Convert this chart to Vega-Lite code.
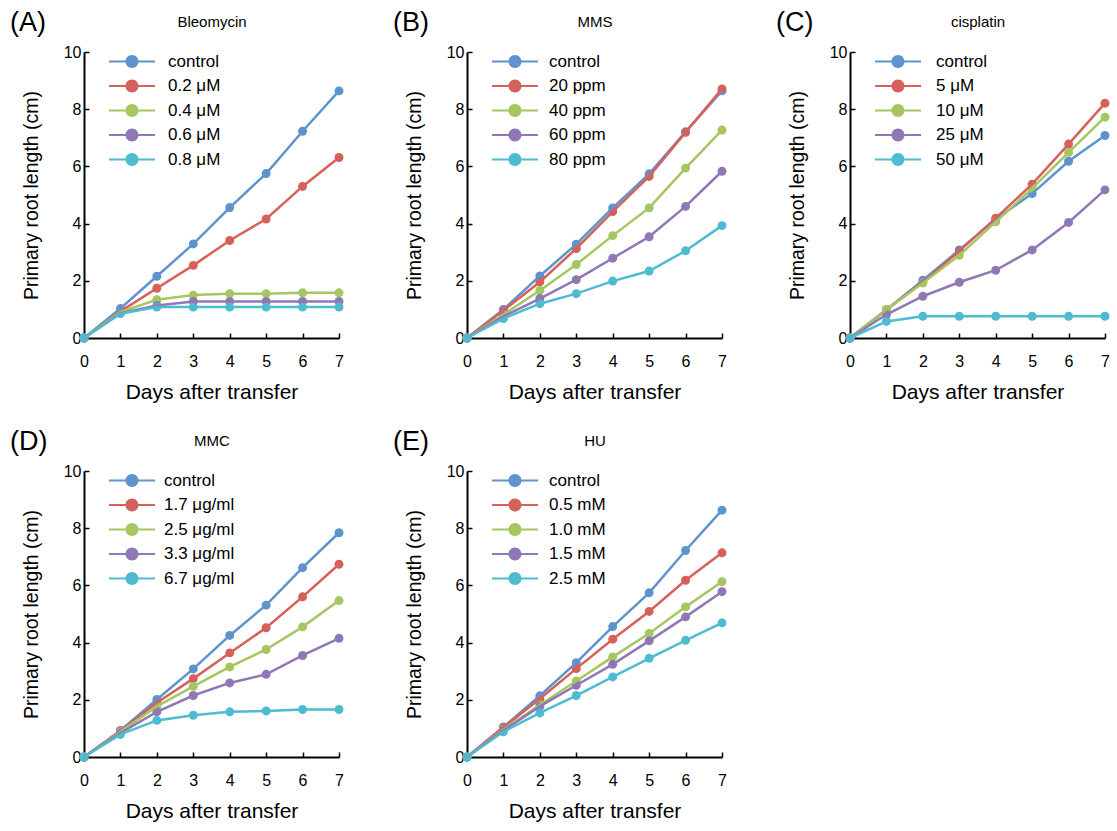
{
  "$schema": "https://vega.github.io/schema/vega-lite/v6.json",
  "padding": {"left": 10, "top": 9, "right": 5, "bottom": 5},
  "background": "white",
  "datasets": {
    "A": [
      {"day":0,"series":"control","length":0},{"day":1,"series":"control","length":1.03},{"day":2,"series":"control","length":2.16},{"day":3,"series":"control","length":3.29},{"day":4,"series":"control","length":4.56},{"day":5,"series":"control","length":5.75},{"day":6,"series":"control","length":7.23},{"day":7,"series":"control","length":8.64},
      {"day":0,"series":"0.2 μM","length":0},{"day":1,"series":"0.2 μM","length":0.93},{"day":2,"series":"0.2 μM","length":1.74},{"day":3,"series":"0.2 μM","length":2.54},{"day":4,"series":"0.2 μM","length":3.41},{"day":5,"series":"0.2 μM","length":4.16},{"day":6,"series":"0.2 μM","length":5.30},{"day":7,"series":"0.2 μM","length":6.31},
      {"day":0,"series":"0.4 μM","length":0},{"day":1,"series":"0.4 μM","length":0.91},{"day":2,"series":"0.4 μM","length":1.34},{"day":3,"series":"0.4 μM","length":1.50},{"day":4,"series":"0.4 μM","length":1.55},{"day":5,"series":"0.4 μM","length":1.55},{"day":6,"series":"0.4 μM","length":1.58},{"day":7,"series":"0.4 μM","length":1.58},
      {"day":0,"series":"0.6 μM","length":0},{"day":1,"series":"0.6 μM","length":0.87},{"day":2,"series":"0.6 μM","length":1.14},{"day":3,"series":"0.6 μM","length":1.28},{"day":4,"series":"0.6 μM","length":1.28},{"day":5,"series":"0.6 μM","length":1.28},{"day":6,"series":"0.6 μM","length":1.28},{"day":7,"series":"0.6 μM","length":1.28},
      {"day":0,"series":"0.8 μM","length":0},{"day":1,"series":"0.8 μM","length":0.85},{"day":2,"series":"0.8 μM","length":1.08},{"day":3,"series":"0.8 μM","length":1.08},{"day":4,"series":"0.8 μM","length":1.08},{"day":5,"series":"0.8 μM","length":1.08},{"day":6,"series":"0.8 μM","length":1.08},{"day":7,"series":"0.8 μM","length":1.08}
    ],
    "B": [
      {"day":0,"series":"control","length":0},{"day":1,"series":"control","length":1.00},{"day":2,"series":"control","length":2.17},{"day":3,"series":"control","length":3.28},{"day":4,"series":"control","length":4.55},{"day":5,"series":"control","length":5.74},{"day":6,"series":"control","length":7.21},{"day":7,"series":"control","length":8.64},
      {"day":0,"series":"20 ppm","length":0},{"day":1,"series":"20 ppm","length":0.96},{"day":2,"series":"20 ppm","length":1.96},{"day":3,"series":"20 ppm","length":3.13},{"day":4,"series":"20 ppm","length":4.42},{"day":5,"series":"20 ppm","length":5.65},{"day":6,"series":"20 ppm","length":7.19},{"day":7,"series":"20 ppm","length":8.71},
      {"day":0,"series":"40 ppm","length":0},{"day":1,"series":"40 ppm","length":0.82},{"day":2,"series":"40 ppm","length":1.66},{"day":3,"series":"40 ppm","length":2.57},{"day":4,"series":"40 ppm","length":3.58},{"day":5,"series":"40 ppm","length":4.55},{"day":6,"series":"40 ppm","length":5.94},{"day":7,"series":"40 ppm","length":7.27},
      {"day":0,"series":"60 ppm","length":0},{"day":1,"series":"60 ppm","length":0.76},{"day":2,"series":"60 ppm","length":1.38},{"day":3,"series":"60 ppm","length":2.04},{"day":4,"series":"60 ppm","length":2.79},{"day":5,"series":"60 ppm","length":3.54},{"day":6,"series":"60 ppm","length":4.60},{"day":7,"series":"60 ppm","length":5.83},
      {"day":0,"series":"80 ppm","length":0},{"day":1,"series":"80 ppm","length":0.68},{"day":2,"series":"80 ppm","length":1.20},{"day":3,"series":"80 ppm","length":1.55},{"day":4,"series":"80 ppm","length":1.99},{"day":5,"series":"80 ppm","length":2.34},{"day":6,"series":"80 ppm","length":3.05},{"day":7,"series":"80 ppm","length":3.93}
    ],
    "C": [
      {"day":0,"series":"control","length":0},{"day":1,"series":"control","length":0.99},{"day":2,"series":"control","length":2.02},{"day":3,"series":"control","length":3.08},{"day":4,"series":"control","length":4.15},{"day":5,"series":"control","length":5.05},{"day":6,"series":"control","length":6.18},{"day":7,"series":"control","length":7.08},
      {"day":0,"series":"5 μM","length":0},{"day":1,"series":"5 μM","length":0.99},{"day":2,"series":"5 μM","length":1.95},{"day":3,"series":"5 μM","length":3.04},{"day":4,"series":"5 μM","length":4.19},{"day":5,"series":"5 μM","length":5.38},{"day":6,"series":"5 μM","length":6.78},{"day":7,"series":"5 μM","length":8.21},
      {"day":0,"series":"10 μM","length":0},{"day":1,"series":"10 μM","length":1.00},{"day":2,"series":"10 μM","length":1.92},{"day":3,"series":"10 μM","length":2.89},{"day":4,"series":"10 μM","length":4.06},{"day":5,"series":"10 μM","length":5.23},{"day":6,"series":"10 μM","length":6.49},{"day":7,"series":"10 μM","length":7.72},
      {"day":0,"series":"25 μM","length":0},{"day":1,"series":"25 μM","length":0.82},{"day":2,"series":"25 μM","length":1.46},{"day":3,"series":"25 μM","length":1.95},{"day":4,"series":"25 μM","length":2.37},{"day":5,"series":"25 μM","length":3.08},{"day":6,"series":"25 μM","length":4.04},{"day":7,"series":"25 μM","length":5.18},
      {"day":0,"series":"50 μM","length":0},{"day":1,"series":"50 μM","length":0.58},{"day":2,"series":"50 μM","length":0.76},{"day":3,"series":"50 μM","length":0.76},{"day":4,"series":"50 μM","length":0.76},{"day":5,"series":"50 μM","length":0.76},{"day":6,"series":"50 μM","length":0.76},{"day":7,"series":"50 μM","length":0.76}
    ],
    "D": [
      {"day":0,"series":"control","length":0},{"day":1,"series":"control","length":0.93},{"day":2,"series":"control","length":2.01},{"day":3,"series":"control","length":3.08},{"day":4,"series":"control","length":4.25},{"day":5,"series":"control","length":5.31},{"day":6,"series":"control","length":6.62},{"day":7,"series":"control","length":7.84},
      {"day":0,"series":"1.7 μg/ml","length":0},{"day":1,"series":"1.7 μg/ml","length":0.91},{"day":2,"series":"1.7 μg/ml","length":1.90},{"day":3,"series":"1.7 μg/ml","length":2.74},{"day":4,"series":"1.7 μg/ml","length":3.64},{"day":5,"series":"1.7 μg/ml","length":4.52},{"day":6,"series":"1.7 μg/ml","length":5.60},{"day":7,"series":"1.7 μg/ml","length":6.74},
      {"day":0,"series":"2.5 μg/ml","length":0},{"day":1,"series":"2.5 μg/ml","length":0.88},{"day":2,"series":"2.5 μg/ml","length":1.77},{"day":3,"series":"2.5 μg/ml","length":2.47},{"day":4,"series":"2.5 μg/ml","length":3.15},{"day":5,"series":"2.5 μg/ml","length":3.76},{"day":6,"series":"2.5 μg/ml","length":4.55},{"day":7,"series":"2.5 μg/ml","length":5.47},
      {"day":0,"series":"3.3 μg/ml","length":0},{"day":1,"series":"3.3 μg/ml","length":0.84},{"day":2,"series":"3.3 μg/ml","length":1.58},{"day":3,"series":"3.3 μg/ml","length":2.15},{"day":4,"series":"3.3 μg/ml","length":2.59},{"day":5,"series":"3.3 μg/ml","length":2.89},{"day":6,"series":"3.3 μg/ml","length":3.55},{"day":7,"series":"3.3 μg/ml","length":4.15},
      {"day":0,"series":"6.7 μg/ml","length":0},{"day":1,"series":"6.7 μg/ml","length":0.79},{"day":2,"series":"6.7 μg/ml","length":1.28},{"day":3,"series":"6.7 μg/ml","length":1.46},{"day":4,"series":"6.7 μg/ml","length":1.58},{"day":5,"series":"6.7 μg/ml","length":1.61},{"day":6,"series":"6.7 μg/ml","length":1.66},{"day":7,"series":"6.7 μg/ml","length":1.66}
    ],
    "E": [
      {"day":0,"series":"control","length":0},{"day":1,"series":"control","length":1.05},{"day":2,"series":"control","length":2.14},{"day":3,"series":"control","length":3.30},{"day":4,"series":"control","length":4.56},{"day":5,"series":"control","length":5.74},{"day":6,"series":"control","length":7.22},{"day":7,"series":"control","length":8.63},
      {"day":0,"series":"0.5 mM","length":0},{"day":1,"series":"0.5 mM","length":1.03},{"day":2,"series":"0.5 mM","length":2.04},{"day":3,"series":"0.5 mM","length":3.09},{"day":4,"series":"0.5 mM","length":4.12},{"day":5,"series":"0.5 mM","length":5.09},{"day":6,"series":"0.5 mM","length":6.18},{"day":7,"series":"0.5 mM","length":7.14},
      {"day":0,"series":"1.0 mM","length":0},{"day":1,"series":"1.0 mM","length":0.96},{"day":2,"series":"1.0 mM","length":1.82},{"day":3,"series":"1.0 mM","length":2.66},{"day":4,"series":"1.0 mM","length":3.50},{"day":5,"series":"1.0 mM","length":4.32},{"day":6,"series":"1.0 mM","length":5.25},{"day":7,"series":"1.0 mM","length":6.13},
      {"day":0,"series":"1.5 mM","length":0},{"day":1,"series":"1.5 mM","length":0.93},{"day":2,"series":"1.5 mM","length":1.77},{"day":3,"series":"1.5 mM","length":2.51},{"day":4,"series":"1.5 mM","length":3.24},{"day":5,"series":"1.5 mM","length":4.06},{"day":6,"series":"1.5 mM","length":4.90},{"day":7,"series":"1.5 mM","length":5.78},
      {"day":0,"series":"2.5 mM","length":0},{"day":1,"series":"2.5 mM","length":0.88},{"day":2,"series":"2.5 mM","length":1.54},{"day":3,"series":"2.5 mM","length":2.15},{"day":4,"series":"2.5 mM","length":2.80},{"day":5,"series":"2.5 mM","length":3.45},{"day":6,"series":"2.5 mM","length":4.08},{"day":7,"series":"2.5 mM","length":4.69}
    ]
  },
  "config": {
    "view": {"stroke": null},
    "font": "Liberation Sans",
    "axis": {"grid": false, "domainColor": "black", "domainWidth": 2, "tickColor": "black", "tickWidth": 1.5, "tickSize": -5, "labelFontSize": 16, "labelColor": "black", "labelFont": "Liberation Sans", "titleFont": "Liberation Sans", "titleFontWeight": "normal", "titleColor": "black", "labelFlush": false, "labelOverlap": false},
    "axisX": {"titleFontSize": 21},
    "axisY": {"titleFontSize": 19.5},
    "legend": {"orient": "none", "legendX": 39.5, "legendY": 1, "title": null, "padding": 0, "symbolType": "M-3.54,-0.16L-0.8,-0.16L-0.8,0.16L-3.54,0.16Z M0.8,-0.16L3.54,-0.16L3.54,0.16L0.8,0.16Z M1,0A1,1 0 1,1 -1,0A1,1 0 1,1 1,0Z", "symbolSize": 169, "symbolStrokeWidth": 0, "symbolOpacity": 1, "labelFontSize": 17, "labelFont": "Liberation Sans", "labelColor": "black", "rowPadding": 6.5, "labelOffset": 27.5},
    "title": {"font": "Liberation Sans", "fontSize": 27, "fontWeight": "normal", "color": "black", "anchor": "start", "frame": "group"}
  },
  "resolve": {"scale": {"color": "independent"}, "legend": {"color": "independent"}},
  "bounds": "flush",
  "columns": 3,
  "spacing": {"row": 133, "column": 128},
  "concat": [
    {
      "width": 255, "height": 286,
      "data": {"name": "A"},
      "title": {"text": "(A)", "dx": -74, "dy": 27},
      "layer": [
        {"mark": {"type": "point", "filled": true, "size": 80, "opacity": 1},
         "encoding": {
           "x": {"field": "day", "type": "quantitative", "scale": {"domain": [0, 7]}, "axis": {"orient": "bottom", "values": [0,1,2,3,4,5,6,7], "title": "Days after transfer", "labelPadding": 20, "titlePadding": 12}},
           "y": {"field": "length", "type": "quantitative", "scale": {"domain": [0, 10]}, "axis": {"orient": "left", "values": [0,2,4,6,8,10], "title": "Primary root length (cm)", "labelPadding": 8, "titlePadding": 22}},
           "color": {"field": "series", "type": "nominal", "sort": null, "scale": {"domain": ["control","0.2 μM","0.4 μM","0.6 μM","0.8 μM"], "range": ["#5E93CE","#D6605A","#A5C660","#9077B5","#4DBBD0"]}, "legend": {"labelOffset": 27.5}}
         }},
        {"mark": {"type": "line", "strokeWidth": 2.5},
         "encoding": {
           "x": {"field": "day", "type": "quantitative", "axis": {"orient": "top", "title": "Bleomycin", "labels": false, "ticks": false, "domain": false, "titleFontSize": 15, "titlePadding": 23}},
           "y": {"field": "length", "type": "quantitative", "axis": {"orient": "left", "values": [0,2,4,6,8,10], "title": "Primary root length (cm)", "labelPadding": 8, "titlePadding": 22}},
           "color": {"field": "series", "type": "nominal", "sort": null}
         }}
      ]
    },
    {
      "width": 255, "height": 286,
      "data": {"name": "B"},
      "title": {"text": "(B)", "dx": -74, "dy": 27},
      "layer": [
        {"mark": {"type": "point", "filled": true, "size": 80, "opacity": 1},
         "encoding": {
           "x": {"field": "day", "type": "quantitative", "scale": {"domain": [0, 7]}, "axis": {"orient": "bottom", "values": [0,1,2,3,4,5,6,7], "title": "Days after transfer", "labelPadding": 20, "titlePadding": 12}},
           "y": {"field": "length", "type": "quantitative", "scale": {"domain": [0, 10]}, "axis": {"orient": "left", "values": [0,2,4,6,8,10], "title": "Primary root length (cm)", "labelPadding": 8, "titlePadding": 22}},
           "color": {"field": "series", "type": "nominal", "sort": null, "scale": {"domain": ["control","20 ppm","40 ppm","60 ppm","80 ppm"], "range": ["#5E93CE","#D6605A","#A5C660","#9077B5","#4DBBD0"]}, "legend": {"labelOffset": 25.5}}
         }},
        {"mark": {"type": "line", "strokeWidth": 2.5},
         "encoding": {
           "x": {"field": "day", "type": "quantitative", "axis": {"orient": "top", "title": "MMS", "labels": false, "ticks": false, "domain": false, "titleFontSize": 15, "titlePadding": 23}},
           "y": {"field": "length", "type": "quantitative", "axis": {"orient": "left", "values": [0,2,4,6,8,10], "title": "Primary root length (cm)", "labelPadding": 8, "titlePadding": 22}},
           "color": {"field": "series", "type": "nominal", "sort": null}
         }}
      ]
    },
    {
      "width": 255, "height": 286,
      "data": {"name": "C"},
      "title": {"text": "(C)", "dx": -74, "dy": 27},
      "layer": [
        {"mark": {"type": "point", "filled": true, "size": 80, "opacity": 1},
         "encoding": {
           "x": {"field": "day", "type": "quantitative", "scale": {"domain": [0, 7]}, "axis": {"orient": "bottom", "values": [0,1,2,3,4,5,6,7], "title": "Days after transfer", "labelPadding": 20, "titlePadding": 12}},
           "y": {"field": "length", "type": "quantitative", "scale": {"domain": [0, 10]}, "axis": {"orient": "left", "values": [0,2,4,6,8,10], "title": "Primary root length (cm)", "labelPadding": 8, "titlePadding": 22}},
           "color": {"field": "series", "type": "nominal", "sort": null, "scale": {"domain": ["control","5 μM","10 μM","25 μM","50 μM"], "range": ["#5E93CE","#D6605A","#A5C660","#9077B5","#4DBBD0"]}, "legend": {"labelOffset": 29.5}}
         }},
        {"mark": {"type": "line", "strokeWidth": 2.5},
         "encoding": {
           "x": {"field": "day", "type": "quantitative", "axis": {"orient": "top", "title": "cisplatin", "labels": false, "ticks": false, "domain": false, "titleFontSize": 15, "titlePadding": 23}},
           "y": {"field": "length", "type": "quantitative", "axis": {"orient": "left", "values": [0,2,4,6,8,10], "title": "Primary root length (cm)", "labelPadding": 8, "titlePadding": 22}},
           "color": {"field": "series", "type": "nominal", "sort": null}
         }}
      ]
    },
    {
      "width": 255, "height": 286,
      "data": {"name": "D"},
      "title": {"text": "(D)", "dx": -74, "dy": 27},
      "layer": [
        {"mark": {"type": "point", "filled": true, "size": 80, "opacity": 1},
         "encoding": {
           "x": {"field": "day", "type": "quantitative", "scale": {"domain": [0, 7]}, "axis": {"orient": "bottom", "values": [0,1,2,3,4,5,6,7], "title": "Days after transfer", "labelPadding": 20, "titlePadding": 12}},
           "y": {"field": "length", "type": "quantitative", "scale": {"domain": [0, 10]}, "axis": {"orient": "left", "values": [0,2,4,6,8,10], "title": "Primary root length (cm)", "labelPadding": 8, "titlePadding": 22}},
           "color": {"field": "series", "type": "nominal", "sort": null, "scale": {"domain": ["control","1.7 μg/ml","2.5 μg/ml","3.3 μg/ml","6.7 μg/ml"], "range": ["#5E93CE","#D6605A","#A5C660","#9077B5","#4DBBD0"]}, "legend": {"labelOffset": 23.5}}
         }},
        {"mark": {"type": "line", "strokeWidth": 2.5},
         "encoding": {
           "x": {"field": "day", "type": "quantitative", "axis": {"orient": "top", "title": "MMC", "labels": false, "ticks": false, "domain": false, "titleFontSize": 15, "titlePadding": 23}},
           "y": {"field": "length", "type": "quantitative", "axis": {"orient": "left", "values": [0,2,4,6,8,10], "title": "Primary root length (cm)", "labelPadding": 8, "titlePadding": 22}},
           "color": {"field": "series", "type": "nominal", "sort": null}
         }}
      ]
    },
    {
      "width": 255, "height": 286,
      "data": {"name": "E"},
      "title": {"text": "(E)", "dx": -74, "dy": 27},
      "layer": [
        {"mark": {"type": "point", "filled": true, "size": 80, "opacity": 1},
         "encoding": {
           "x": {"field": "day", "type": "quantitative", "scale": {"domain": [0, 7]}, "axis": {"orient": "bottom", "values": [0,1,2,3,4,5,6,7], "title": "Days after transfer", "labelPadding": 20, "titlePadding": 12}},
           "y": {"field": "length", "type": "quantitative", "scale": {"domain": [0, 10]}, "axis": {"orient": "left", "values": [0,2,4,6,8,10], "title": "Primary root length (cm)", "labelPadding": 8, "titlePadding": 22}},
           "color": {"field": "series", "type": "nominal", "sort": null, "scale": {"domain": ["control","0.5 mM","1.0 mM","1.5 mM","2.5 mM"], "range": ["#5E93CE","#D6605A","#A5C660","#9077B5","#4DBBD0"]}, "legend": {"labelOffset": 25.5}}
         }},
        {"mark": {"type": "line", "strokeWidth": 2.5},
         "encoding": {
           "x": {"field": "day", "type": "quantitative", "axis": {"orient": "top", "title": "HU", "labels": false, "ticks": false, "domain": false, "titleFontSize": 15, "titlePadding": 23}},
           "y": {"field": "length", "type": "quantitative", "axis": {"orient": "left", "values": [0,2,4,6,8,10], "title": "Primary root length (cm)", "labelPadding": 8, "titlePadding": 22}},
           "color": {"field": "series", "type": "nominal", "sort": null}
         }}
      ]
    }
  ]
}
